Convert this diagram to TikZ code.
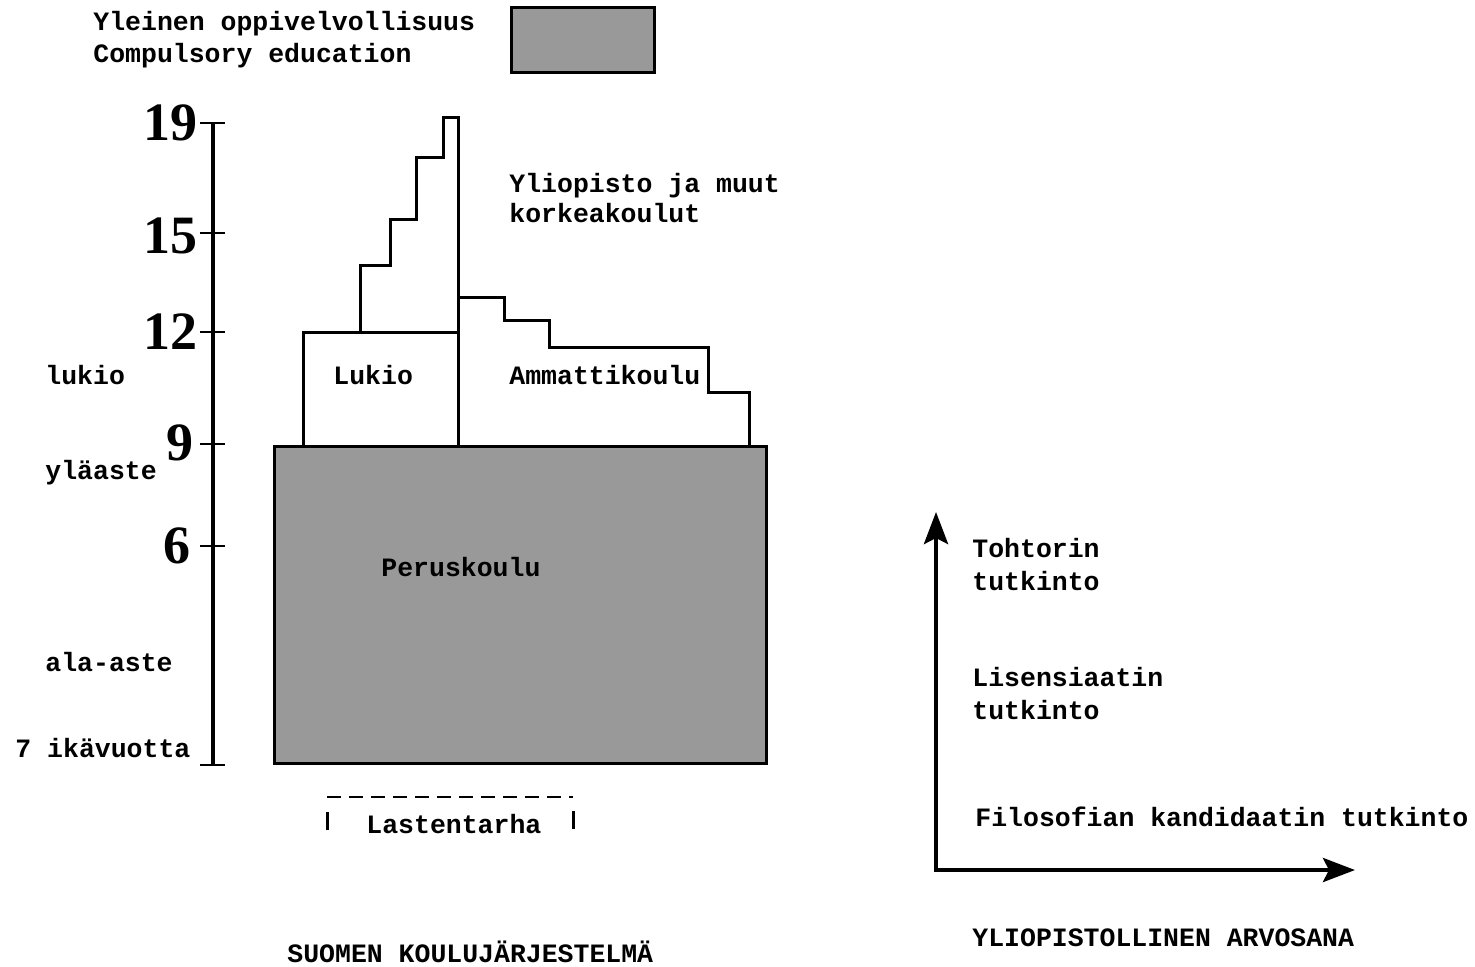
\documentclass[tikz,border=0pt]{standalone}
\usepackage{fontspec}
\setmainfont{Liberation Serif}
\setmonofont{Liberation Mono}
\usetikzlibrary{arrows.meta}
\begin{document}
\begin{tikzpicture}[x=0.5pt,y=-0.5pt,
  tw/.style={font=\fontsize{13.25}{16}\selectfont\ttfamily\bfseries, anchor=base west, inner sep=0pt},
  num/.style={font=\fontsize{27}{30}\selectfont\rmfamily\bfseries, anchor=east, inner sep=0pt},
  outline/.style={line width=1.5pt, line join=miter},
  shadebox/.style={fill=black!40, draw=black, line width=1.5pt},
  tick/.style={line width=1.3pt},
  axarrow/.style={line width=2.2pt, -{Stealth[length=16pt,width=12pt,inset=3pt]}}]
\useasboundingbox (0,0) rectangle (1475,966);

% legend
\node[tw] (leg1) at (93,30) {Yleinen oppivelvollisuus};
\node[tw] (leg2) at (93,62) {Compulsory education};
\draw[shadebox] (511,7) rectangle (654,72);

% age axis
\draw[line width=1.6pt] (213,123) -- (213,765);
\foreach \yy in {123,233,332,444,546,765} \draw[tick] (200,\yy) -- (225,\yy);
\node[num] (n19) at (198,123) {19};
\node[num] (n15) at (198,236) {15};
\node[num] (n12) at (198,332) {12};
\node[num] (n9) at (194,443) {9};
\node[num] (n6) at (191,546) {6};

\node[tw] (lk) at (45,384) {lukio};
\node[tw] (yl) at (45,479) {yläaste};
\node[tw] (al) at (45,671) {ala-aste};
\node[tw] (ik) at (15,757) {7 ikävuotta};

% upper levels
\draw[outline] (303,446) -- (303,332) -- (458,332);
\draw[outline] (360,332) -- (360,265) -- (390,265) -- (390,219) -- (416,219) -- (416,157) -- (443,157) -- (443,117) -- (458,117) -- (458,446);
\draw[outline] (458,297) -- (504,297) -- (504,320) -- (549,320) -- (549,347) -- (708,347) -- (708,392) -- (749,392) -- (749,446);

\node[tw] (yo1) at (509,192) {Yliopisto ja muut};
\node[tw] (yo2) at (509,222) {korkeakoulut};
\node[tw] (lu) at (333,384) {Lukio};
\node[tw] (am) at (509,384) {Ammattikoulu};

% peruskoulu
\draw[shadebox] (274,446) rectangle (766,763);
\node[tw] (pk) at (381,576) {Peruskoulu};

% lastentarha
\draw[line width=1.2pt, dash pattern=on 7pt off 4pt] (327,797) -- (573,797);
\draw[line width=1.5pt] (327,812) -- (327,830);
\draw[line width=1.5pt] (573,811) -- (573,829);
\node[tw] (la) at (366,833) {Lastentarha};

\node[tw] (title1) at (287,962) {SUOMEN KOULUJÄRJESTELMÄ};

% degrees
\coordinate (o) at (936,870);
\coordinate (top) at (936,512);
\coordinate (right) at (1355,870);
\draw[axarrow] ([yshift=-1.1pt]o) -- (top);
\draw[axarrow] ([xshift=-1.1pt]o) -- (right);

\node[tw] (t1) at (972,557) {Tohtorin};
\node[tw] (t2) at (972,590) {tutkinto};
\node[tw] (l1) at (972,686) {Lisensiaatin};
\node[tw] (l2) at (972,719) {tutkinto};
\node[tw] (fk) at (975,826) {Filosofian kandidaatin tutkinto};
\node[tw] (ya) at (972,946) {YLIOPISTOLLINEN ARVOSANA};
\end{tikzpicture}
\end{document}
